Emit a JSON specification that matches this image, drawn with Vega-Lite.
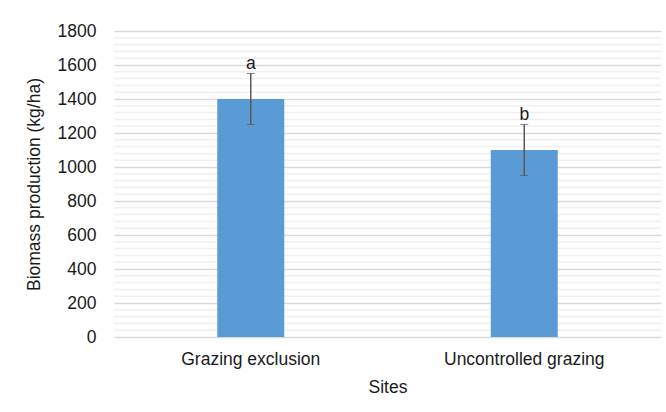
{
  "$schema": "https://vega.github.io/schema/vega-lite/v6.json",
  "width": 547,
  "height": 306,
  "autosize": {"type": "none"},
  "padding": {"left": 114, "top": 31, "right": 5, "bottom": 75},
  "background": "white",
  "config": {
    "view": {"stroke": null},
    "font": "Liberation Sans",
    "axis": {"labelFont": "Liberation Sans", "titleFont": "Liberation Sans", "labelColor": "#1a1a1a", "titleColor": "#1a1a1a", "labelFontSize": 17.5, "titleFontSize": 17.5, "titleFontWeight": "normal"},
    "axisY": {"title": "Biomass production (kg/ha)", "values": [0,200,400,600,800,1000,1200,1400,1600,1800], "format": "d", "domain": false, "ticks": false, "labelPadding": 18, "gridColor": "#d9d9d9", "gridWidth": 1.5, "titlePadding": 14, "labelOverlap": false}
  },
  "data": {
    "values": [
      {"site": "Grazing exclusion", "biomass": 1400, "lo": 1250, "hi": 1550, "letter": "a"},
      {"site": "Uncontrolled grazing", "biomass": 1100, "lo": 950, "hi": 1250, "letter": "b"}
    ]
  },
  "layer": [
    {
      "data": {"values": [{"v": 40},{"v": 80},{"v": 120},{"v": 160},{"v": 240},{"v": 280},{"v": 320},{"v": 360},{"v": 440},{"v": 480},{"v": 520},{"v": 560},{"v": 640},{"v": 680},{"v": 720},{"v": 760},{"v": 840},{"v": 880},{"v": 920},{"v": 960},{"v": 1040},{"v": 1080},{"v": 1120},{"v": 1160},{"v": 1240},{"v": 1280},{"v": 1320},{"v": 1360},{"v": 1440},{"v": 1480},{"v": 1520},{"v": 1560},{"v": 1640},{"v": 1680},{"v": 1720},{"v": 1760}]},
      "mark": {"type": "rule", "color": "#f0f0f0", "strokeWidth": 1.5},
      "encoding": {"y": {"field": "v", "type": "quantitative", "scale": {"domain": [0, 1800]}, "title": "Biomass production (kg/ha)",
        "axis": {"values": [0,200,400,600,800,1000,1200,1400,1600,1800], "format": "d", "labelOverlap": false}}}
    },
    {
      "mark": {"type": "bar", "color": "#5b9bd5", "width": 67},
      "encoding": {
        "x": {"field": "site", "type": "nominal", "sort": null, "scale": {"paddingInner": 0, "paddingOuter": 0},
          "axis": {"title": "Sites", "labelAngle": 0, "domain": false, "ticks": false, "labelPadding": 13, "titlePadding": 11}},
        "y": {"field": "biomass", "type": "quantitative", "title": "Biomass production (kg/ha)",
          "axis": {"values": [0,200,400,600,800,1000,1200,1400,1600,1800], "format": "d", "labelOverlap": false}}
      }
    },
    {
      "mark": {"type": "errorbar", "ticks": {"size": 8, "color": "#595959", "strokeWidth": 1.5}, "rule": {"color": "#595959", "strokeWidth": 1.5}},
      "encoding": {
        "x": {"field": "site", "type": "nominal", "sort": null, "title": "Sites"},
        "y": {"field": "lo", "type": "quantitative", "title": "Biomass production (kg/ha)",
          "axis": {"values": [0,200,400,600,800,1000,1200,1400,1600,1800], "format": "d", "labelOverlap": false}},
        "y2": {"field": "hi"}
      }
    },
    {
      "mark": {"type": "text", "fontSize": 17.5, "color": "#1a1a1a", "dy": -5, "baseline": "alphabetic"},
      "encoding": {
        "x": {"field": "site", "type": "nominal", "sort": null, "title": "Sites"},
        "y": {"field": "hi", "type": "quantitative", "title": "Biomass production (kg/ha)",
          "axis": {"values": [0,200,400,600,800,1000,1200,1400,1600,1800], "format": "d", "labelOverlap": false}},
        "text": {"field": "letter"}
      }
    }
  ]
}
